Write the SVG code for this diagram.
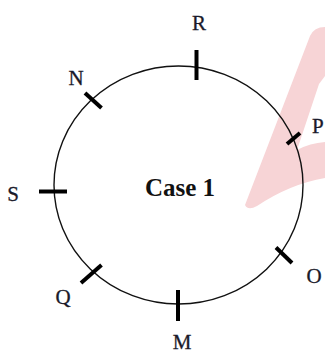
<svg xmlns="http://www.w3.org/2000/svg" width="325" height="355" viewBox="0 0 325 355">
<style>
.lbl{font-family:"Liberation Serif","DejaVu Serif",serif;font-size:21px;fill:#1a1a2a;text-anchor:middle;stroke:#1a1a2a;stroke-width:0.3}
.tick{stroke:#000;stroke-width:4;stroke-linecap:butt;fill:none}
.ring{stroke:#111;stroke-width:1.4;fill:none}
.title{font-family:"Liberation Serif","DejaVu Serif",serif;font-size:25px;font-weight:bold;fill:#111;text-anchor:middle}
</style>
<rect width="325" height="355" fill="#fff"/>
<g id="watermark">
<path d="M245 205 L310 36 Q314 27 325 27 L325 76 L319 84 L297 150 Q310 143 325 142 L325 178 Q290 184 257 206 Q248 211 245 205 Z" fill="#f7d4d6"/>
</g>
<g id="connectors">
<ellipse class="ring" cx="178.5" cy="185" rx="124.5" ry="119"/>
</g>
<g id="node-R"><line class="tick" x1="196.5" y1="50" x2="196.5" y2="80"/><text class="lbl" x="199" y="30">R</text></g>
<g id="node-N"><line class="tick" x1="85" y1="93" x2="101.5" y2="108"/><text class="lbl" x="76" y="85">N</text></g>
<g id="node-P"><line class="tick" x1="287" y1="144" x2="300" y2="133"/><text class="lbl" x="312" y="133" style="text-anchor:start">P</text></g>
<g id="node-S"><line class="tick" x1="39" y1="191.5" x2="67" y2="191.5"/><text class="lbl" x="13" y="201">S</text></g>
<g id="node-Q"><line class="tick" x1="81" y1="283" x2="101.5" y2="265"/><text class="lbl" x="63" y="304">Q</text></g>
<g id="node-M"><line class="tick" x1="178" y1="290" x2="178" y2="321"/><text class="lbl" x="182" y="349">M</text></g>
<g id="node-O"><line class="tick" x1="276" y1="247.5" x2="292" y2="263"/><text class="lbl" x="314" y="283">O</text></g>
<g id="center"><text class="title" x="180" y="196">Case 1</text></g>
</svg>
